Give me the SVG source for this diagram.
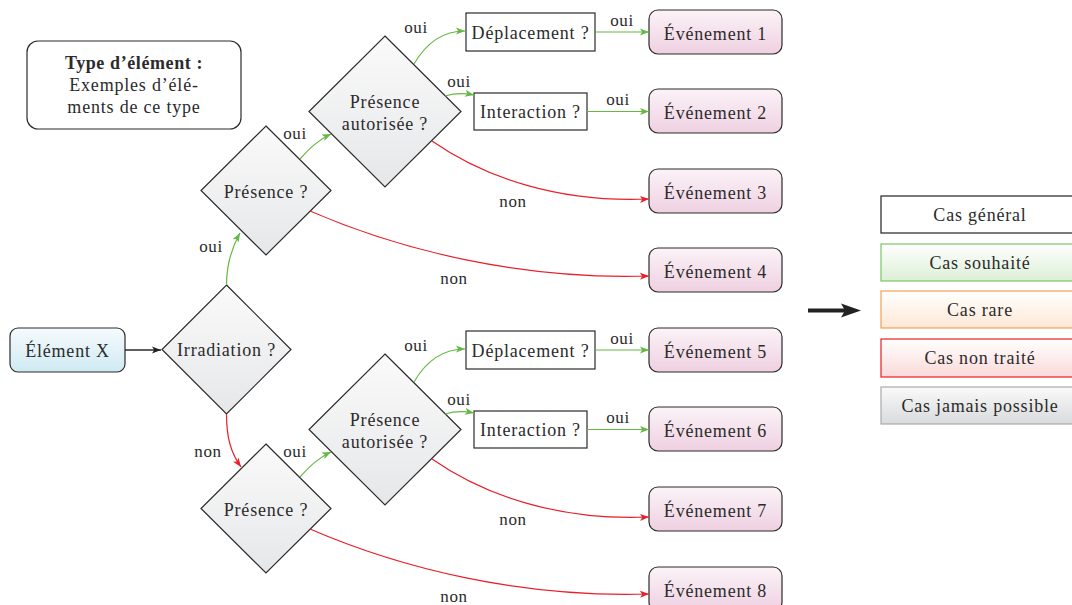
<svg xmlns="http://www.w3.org/2000/svg" width="1072" height="605" viewBox="0 0 1072 605">
<defs>
<linearGradient id="gDiam" x1="0" y1="0" x2="0" y2="1"><stop offset="0" stop-color="#fafafa"/><stop offset="1" stop-color="#e6e7e9"/></linearGradient>
<linearGradient id="gEvt" x1="0" y1="0" x2="0" y2="1"><stop offset="0" stop-color="#fbf3f7"/><stop offset="1" stop-color="#efd0e1"/></linearGradient>
<linearGradient id="gElt" x1="0" y1="0" x2="0" y2="1"><stop offset="0" stop-color="#f6fbfd"/><stop offset="1" stop-color="#cfeaf3"/></linearGradient>
<linearGradient id="gGreen" x1="0" y1="0" x2="0" y2="1"><stop offset="0" stop-color="#ffffff"/><stop offset="1" stop-color="#dcefd6"/></linearGradient>
<linearGradient id="gOrange" x1="0" y1="0" x2="0" y2="1"><stop offset="0" stop-color="#ffffff"/><stop offset="1" stop-color="#fde8d6"/></linearGradient>
<linearGradient id="gRed" x1="0" y1="0" x2="0" y2="1"><stop offset="0" stop-color="#ffffff"/><stop offset="1" stop-color="#fbd9d9"/></linearGradient>
<linearGradient id="gGray" x1="0" y1="0" x2="0" y2="1"><stop offset="0" stop-color="#fafafa"/><stop offset="1" stop-color="#d9dadc"/></linearGradient>
<marker id="aG" markerUnits="userSpaceOnUse" markerWidth="10" markerHeight="8" refX="9" refY="4" orient="auto"><path d="M0,0.5 L9,4 L0,7.5 L2.2,4 z" fill="#66b844"/></marker>
<marker id="aR" markerUnits="userSpaceOnUse" markerWidth="10" markerHeight="8" refX="9" refY="4" orient="auto"><path d="M0,0.5 L9,4 L0,7.5 L2.2,4 z" fill="#e8202a"/></marker>
<marker id="aK" markerUnits="userSpaceOnUse" markerWidth="10" markerHeight="8" refX="9" refY="4" orient="auto"><path d="M0,0.5 L9,4 L0,7.5 L2.2,4 z" fill="#222"/></marker>
<style>
text{font-family:"Liberation Serif","Times New Roman",serif;font-size:18px;fill:#2b2b2b;text-anchor:middle;letter-spacing:0.8px}
.lbl{font-size:17px;letter-spacing:0.6px}
.diam{fill:url(#gDiam);stroke:#2b2b2b;stroke-width:1.2}
.evt{fill:url(#gEvt);stroke:#2b2b2b;stroke-width:1.2}
.box{fill:#fff;stroke:#2b2b2b;stroke-width:1.2}
.g{fill:none;stroke:#66b844;stroke-width:1.2;marker-end:url(#aG)}
.r{fill:none;stroke:#e8202a;stroke-width:1.2;marker-end:url(#aR)}
.k{fill:none;stroke:#2b2b2b;stroke-width:1.3;marker-end:url(#aK)}
</style>
</defs>
<rect width="1072" height="605" fill="#fff"/>

<g id="type-box"><rect class="box" x="27" y="41" width="214" height="88" rx="11"/>
<text x="134" y="69" font-weight="bold" style="letter-spacing:0.6px">Type d’élément :</text>
<text x="134" y="91">Exemples d’élé-</text>
<text x="134" y="113">ments de ce type</text></g>

<g id="element-x"><rect x="10" y="328" width="115" height="44" rx="8" fill="url(#gElt)" stroke="#2b2b2b" stroke-width="1.2"/><text x="67.5" y="357">Élément X</text></g>
<g id="irradiation"><polygon class="diam" points="226.5,285 291,349.5 226.5,414 162,349.5"/><text x="226.5" y="356">Irradiation ?</text></g>

<g id="presence-1"><polygon class="diam" points="266,126 331,190.5 266,255 201,190.5"/><text x="266" y="198">Présence ?</text></g>
<g id="presence-aut-1"><polygon class="diam" points="385,36 461,111.5 385,187 309,111.5"/><text x="385" y="108">Présence</text><text x="385" y="130">autorisée ?</text></g>
<g id="deplacement-1"><rect class="box" x="466" y="13" width="129" height="38"/><text x="530.5" y="39">Déplacement ?</text></g>
<g id="interaction-1"><rect class="box" x="474" y="93" width="113" height="37"/><text x="530.5" y="118">Interaction ?</text></g>

<g id="presence-2"><polygon class="diam" points="266,444 331,508.5 266,573 201,508.5"/><text x="266" y="516">Présence ?</text></g>
<g id="presence-aut-2"><polygon class="diam" points="385,354 461,429.5 385,505 309,429.5"/><text x="385" y="426">Présence</text><text x="385" y="448">autorisée ?</text></g>
<g id="deplacement-2"><rect class="box" x="466" y="331" width="129" height="38"/><text x="530.5" y="357">Déplacement ?</text></g>
<g id="interaction-2"><rect class="box" x="474" y="411" width="113" height="37"/><text x="530.5" y="436">Interaction ?</text></g>

<g id="evt-1"><rect class="evt" x="649" y="10" width="133" height="44" rx="9"/><text x="715.5" y="40">Événement 1</text></g>
<g id="evt-2"><rect class="evt" x="649" y="89" width="133" height="44" rx="9"/><text x="715.5" y="119">Événement 2</text></g>
<g id="evt-3"><rect class="evt" x="649" y="169" width="133" height="44" rx="9"/><text x="715.5" y="199">Événement 3</text></g>
<g id="evt-4"><rect class="evt" x="649" y="248" width="133" height="44" rx="9"/><text x="715.5" y="278">Événement 4</text></g>
<g id="evt-5"><rect class="evt" x="649" y="328" width="133" height="44" rx="9"/><text x="715.5" y="358">Événement 5</text></g>
<g id="evt-6"><rect class="evt" x="649" y="407" width="133" height="44" rx="9"/><text x="715.5" y="437">Événement 6</text></g>
<g id="evt-7"><rect class="evt" x="649" y="487" width="133" height="44" rx="9"/><text x="715.5" y="517">Événement 7</text></g>
<g id="evt-8"><rect class="evt" x="649" y="567" width="133" height="44" rx="9"/><text x="715.5" y="597">Événement 8</text></g>

<g id="connectors">
<path class="k" d="M125,350 L161,350"/>
<path class="g" d="M226.5,285 C226.5,265 231,249 240,233"/>
<path class="r" d="M226.5,414 C226.5,438 231,453 241,467"/>
<path class="g" d="M300,159 C310,148 318,140 331,134"/>
<path class="g" d="M414,64 C425,45 440,31 465,31"/>
<path class="g" d="M445,96 C455,93 464,93 474,95"/>
<path class="g" d="M595,32 L649,32"/>
<path class="g" d="M587,111.5 L649,111.5"/>
<path class="r" d="M432,141 C485,178 560,203 649,199"/>
<path class="r" d="M310,211 C400,250 520,280 649,276"/>
<path class="g" d="M300,477 C310,466 318,458 331,452"/>
<path class="g" d="M414,382 C425,363 440,349 465,349"/>
<path class="g" d="M445,414 C455,411 464,411 474,413"/>
<path class="g" d="M595,350 L649,350"/>
<path class="g" d="M587,429.5 L649,429.5"/>
<path class="r" d="M432,459 C485,496 560,521 649,517"/>
<path class="r" d="M310,529 C400,568 520,598 649,594"/>
</g>

<g id="labels">
<text class="lbl" x="211" y="252">oui</text>
<text class="lbl" x="208" y="457">non</text>
<text class="lbl" x="295" y="139">oui</text>
<text class="lbl" x="416" y="33">oui</text>
<text class="lbl" x="459" y="87">oui</text>
<text class="lbl" x="622" y="26">oui</text>
<text class="lbl" x="618" y="105">oui</text>
<text class="lbl" x="513" y="207">non</text>
<text class="lbl" x="454" y="284">non</text>
<text class="lbl" x="295" y="457">oui</text>
<text class="lbl" x="416" y="351">oui</text>
<text class="lbl" x="459" y="405">oui</text>
<text class="lbl" x="622" y="344">oui</text>
<text class="lbl" x="618" y="423">oui</text>
<text class="lbl" x="513" y="525">non</text>
<text class="lbl" x="454" y="602">non</text>
</g>

<g id="big-arrow"><line x1="808" y1="310.5" x2="846" y2="310.5" stroke="#222" stroke-width="4"/><path d="M841,303.5 L861,310.5 L841,317.5 L845,310.5 z" fill="#222"/></g>

<g id="legend">
<g id="leg-general"><rect x="881" y="196" width="198" height="37" fill="#fff" stroke="#222" stroke-width="1.2"/><text x="980" y="221">Cas général</text></g>
<g id="leg-souhaite"><rect x="881" y="244" width="198" height="37" fill="url(#gGreen)" stroke="#7cc466" stroke-width="1.2"/><text x="980" y="269">Cas souhaité</text></g>
<g id="leg-rare"><rect x="881" y="291" width="198" height="37" fill="url(#gOrange)" stroke="#f2a055" stroke-width="1.2"/><text x="980" y="316">Cas rare</text></g>
<g id="leg-non"><rect x="881" y="339" width="198" height="38" fill="url(#gRed)" stroke="#e82020" stroke-width="1.2"/><text x="980" y="364">Cas non traité</text></g>
<g id="leg-jamais"><rect x="881" y="387" width="198" height="37" fill="url(#gGray)" stroke="#aaaaaa" stroke-width="1.2"/><text x="980" y="412">Cas jamais possible</text></g>
</g>
</svg>
